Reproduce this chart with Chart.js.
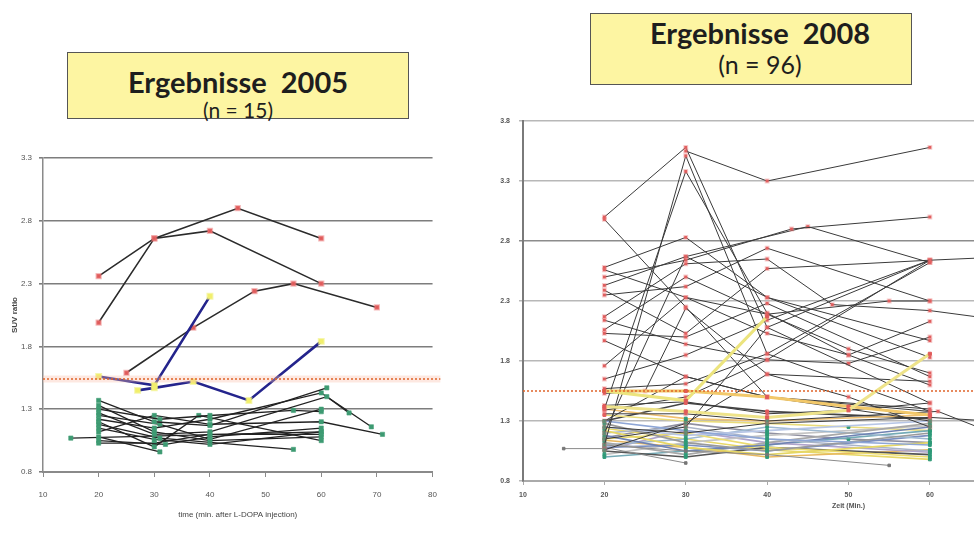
<!DOCTYPE html>
<html>
<head>
<meta charset="utf-8">
<script src="https://cdn.jsdelivr.net/npm/chart.js@4.4.1/dist/chart.umd.min.js"></script>
<style>
    html, body { margin: 0; padding: 0; width: 974px; height: 536px; overflow: hidden; background: #fff; }
    body { position: relative; }
    .box { position: absolute; background: #fdf5a2; border: 1.5px solid #555; box-sizing: border-box; }
    .t { position: absolute; text-align: center; font-family: Lato, sans-serif; line-height: 1; color: #1e1e1e; white-space: pre; }
    #wrapLeft { position: absolute; left: 0; top: 130px; width: 450px; height: 400px; }
    #wrapRight { position: absolute; left: 480px; top: 100px; width: 700px; height: 430px; }
</style>
</head>
<body>
<div class="box" style="left:67px;top:52px;width:342px;height:67px"></div>
<div class="t" style="left:67px;top:67px;width:342px;font-size:29px;font-weight:700">Ergebnisse  2005</div>
<div class="t" style="left:67px;top:99px;width:342px;font-size:21px">(n = 15)</div>

<div class="box" style="left:590px;top:13px;width:322px;height:72px"></div>
<div class="t" style="left:600px;top:17.6px;width:320px;font-size:29px;font-weight:700">Ergebnisse  2008</div>
<div class="t" style="left:600px;top:52px;width:320px;font-size:25px">(n = 96)</div>

<div id="wrapLeft"><canvas id="left"></canvas></div>
<div id="wrapRight"><canvas id="right"></canvas></div>

<script>
// ---- 2005 chart (n = 15) ----
const xTicksLeft = [10, 20, 30, 40, 50, 60, 70, 80];
const yTicksLeft = [0.8, 1.3, 1.8, 2.3, 2.8, 3.3];
const thresholdLeft = 1.54;

// red markers, black lines
const leftRedSeries = [
    [[20, 2.36], [30, 2.66], [45, 2.90], [60, 2.66]],
    [[20, 1.99], [30, 2.66], [40, 2.72], [60, 2.30]],
    [[25, 1.59], [37, 1.95], [48, 2.24], [55, 2.30], [70, 2.11]]
];
// yellow markers, blue lines
const leftBlueSeries = [
    [[20, 1.56], [30, 1.49], [40, 2.20]],
    [[27, 1.45], [30, 1.47], [37, 1.52], [47, 1.37], [60, 1.84]]
];
// green markers, black lines
const leftGreenSeries = [
    [[20, 1.37], [30, 1.20], [40, 1.17], [61, 1.47]],
    [[20, 1.33], [30, 1.12], [40, 1.05], [60, 1.08]],
    [[20, 1.30], [31, 1.22], [40, 1.25], [55, 1.29], [60, 1.28]],
    [[20, 1.27], [30, 1.10], [40, 1.12], [61, 1.40], [65, 1.27]],
    [[20, 1.22], [30, 1.15], [40, 1.22], [60, 1.43], [69, 1.16]],
    [[20, 1.18], [31, 1.07], [55, 0.98]],
    [[20, 1.15], [30, 1.06], [40, 1.02], [60, 1.12]],
    [[20, 1.12], [30, 1.25], [40, 1.18], [60, 1.20], [71, 1.10]],
    [[20, 1.08], [31, 0.96]],
    [[20, 1.05], [32, 1.02], [40, 1.08], [60, 1.15]],
    [[20, 1.03], [30, 1.03], [40, 1.10], [60, 1.10]],
    [[15, 1.07], [60, 1.12]],
    [[20, 1.20], [30, 1.00], [38, 1.25], [60, 1.05]],
    [[20, 1.25], [31, 1.18], [40, 1.06], [60, 1.30]]
];

// ---- 2008 chart (n = 96) ----
const xTicksRight = [10, 20, 30, 40, 50, 60];
const yTicksRight = [0.8, 1.3, 1.8, 2.3, 2.8, 3.3, 3.8];
const thresholdRight = 1.55;

// black lines, marker colour by value
const rightBlackSeries = [
    [[30, 3.55], [40, 3.30], [60, 3.58]],
    [[20, 3.00], [30, 3.58], [40, 2.08], [60, 1.45]],
    [[20, 2.98], [30, 2.25], [40, 1.50], [60, 1.30]],
    [[20, 1.40], [30, 3.38], [40, 2.20], [50, 1.85], [60, 1.60]],
    [[20, 1.10], [30, 3.51], [40, 1.86], [60, 1.38]],
    [[20, 2.58], [30, 2.83], [40, 2.33], [60, 1.97]],
    [[20, 2.50], [30, 2.64], [43, 2.90], [60, 3.00]],
    [[20, 2.43], [30, 2.67], [45, 2.92], [60, 2.62]],
    [[20, 2.39], [30, 2.03], [40, 2.57], [60, 2.64], [70, 2.67]],
    [[20, 2.35], [30, 2.42], [40, 2.74], [60, 2.30]],
    [[20, 2.17], [30, 2.61], [40, 2.65], [48, 2.27], [60, 2.22], [70, 2.13]],
    [[20, 2.14], [30, 1.94], [40, 1.81], [50, 1.78], [60, 2.00]],
    [[20, 2.06], [30, 2.50], [40, 2.19], [55, 2.30], [60, 2.30]],
    [[20, 2.03], [30, 2.00], [40, 2.28], [60, 1.67]],
    [[20, 1.97], [30, 1.67], [40, 1.50], [60, 1.40]],
    [[20, 1.76], [30, 2.33], [40, 2.03], [50, 1.85], [60, 2.13]],
    [[20, 1.65], [30, 1.85], [40, 2.14], [60, 2.64]],
    [[20, 1.57], [30, 1.61], [40, 1.86], [60, 2.62]],
    [[20, 1.53], [25, 1.55], [30, 2.24], [40, 1.69], [60, 1.63]],
    [[20, 1.43], [30, 1.46], [40, 1.36], [50, 1.39], [60, 1.45]],
    [[20, 1.39], [30, 1.50], [40, 1.81], [60, 2.64]],
    [[20, 1.36], [30, 1.36], [40, 1.30], [61, 1.38], [70, 1.14]],
    [[20, 1.20], [30, 2.67], [40, 2.33], [60, 1.83]],
    [[20, 1.15], [30, 1.25], [40, 2.08], [60, 2.64]],
    [[20, 1.06], [30, 1.28], [40, 1.69], [50, 1.50], [60, 1.25]],
    [[20, 1.30], [30, 1.67], [40, 1.50], [60, 1.38]],
    [[20, 1.25], [30, 1.20], [40, 1.28], [60, 1.33], [70, 1.29]],
    [[20, 2.56], [30, 2.33], [40, 2.19], [50, 1.90], [60, 1.70]]
];
// thin grey lines with grey markers
const rightGreySeries = [
    [[15, 1.07], [20, 1.07]],
    [[20, 1.08], [30, 0.95]],
    [[20, 1.10], [30, 1.05], [40, 1.02], [55, 0.93]]
];
// coloured lines in the low band
const rightLowSeries = [
    [[20, 1.30], [30, 1.22], [40, 1.15], [60, 1.10]],
    [[20, 1.28], [30, 1.12], [40, 1.05], [60, 1.20]],
    [[20, 1.25], [30, 1.18], [40, 1.22], [60, 1.30]],
    [[20, 1.22], [30, 1.08], [40, 1.02], [60, 1.12]],
    [[20, 1.20], [30, 1.25], [40, 1.15], [60, 1.05]],
    [[20, 1.18], [30, 1.05], [40, 1.10], [60, 1.25]],
    [[20, 1.15], [30, 1.20], [40, 1.08], [60, 1.00]],
    [[20, 1.12], [30, 1.02], [40, 1.12], [60, 1.28]],
    [[20, 1.10], [30, 1.15], [40, 1.25], [60, 1.15]],
    [[20, 1.08], [30, 1.10], [40, 1.05], [60, 1.18]],
    [[20, 1.05], [30, 1.00], [40, 1.08], [60, 1.02]],
    [[20, 1.02], [30, 1.12], [40, 1.18], [60, 1.26]],
    [[20, 1.06], [30, 1.22], [40, 1.12], [60, 1.04]],
    [[20, 1.14], [30, 1.08], [40, 1.00], [60, 1.06]],
    [[20, 1.24], [30, 1.15], [40, 1.06], [60, 0.98]],
    [[20, 1.00], [30, 1.05], [40, 1.10], [60, 1.22]],
    [[20, 1.16], [30, 1.28], [40, 1.20], [50, 1.15], [60, 1.12]],
    [[20, 1.35], [30, 1.30], [40, 1.28], [50, 1.25], [60, 1.22]],
    [[20, 1.40], [30, 1.32], [40, 1.30], [60, 1.35]],
    [[20, 1.30], [30, 1.45], [40, 1.38], [60, 1.32]]
];
const lowColors = ['#8ea6d6', '#9a9a9a', '#b7c6e6', '#e6d764', '#aab4c8', '#6f82b2', '#ecdc70',
    '#a8a8a8', '#9db8d0', '#7b8fc0', '#555555', '#c4c4c4', '#b0a4cc', '#e8b860', '#e8d868',
    '#74aab6', '#9090a0', '#eadc7a', '#f0c070', '#444444'];
// highlighted yellow lines
const rightYellowSeries = [
    [[20, 1.55], [30, 1.47], [40, 2.17]],
    [[20, 1.42], [30, 1.38], [40, 1.33], [50, 1.39], [60, 1.86]],
    [[20, 1.55], [30, 1.55], [40, 1.50], [50, 1.42], [60, 1.35]]
];
const yellowColors = ['#ece47e', '#eee38a', '#f2c86a'];

const pts = s => s.map(p => ({ x: p[0], y: p[1] }));
const tickFont = { family: 'Arial', size: 8 };

function lineSet(series, opts) {
    return Object.assign({ data: pts(series), showLine: true, fill: false, tension: 0, pointStyle: 'rect' }, opts);
}

// ---------- left chart ----------
const leftSets = [];
leftSets.push(lineSet([[10, thresholdLeft], [81.4, thresholdLeft]], {
    borderColor: '#e0642a', borderWidth: 1.5, borderDash: [2, 2], pointRadius: 0, clip: false
}));
leftSets.push(lineSet([[10, thresholdLeft], [81.4, thresholdLeft]], {
    borderColor: 'rgba(250,190,170,0.35)', borderWidth: 7, pointRadius: 0, clip: false
}));
leftBlueSeries.forEach(s => leftSets.push(lineSet(s, {
    borderColor: '#24248c', borderWidth: 2.6, pointRadius: 3.5,
    pointBackgroundColor: '#f2ef6a', pointBorderColor: 'rgba(240,240,120,0.6)', pointBorderWidth: 2
})));
leftRedSeries.forEach(s => leftSets.push(lineSet(s, {
    borderColor: '#2b2b2b', borderWidth: 1.6, pointRadius: 3,
    pointBackgroundColor: '#de5a5a', pointBorderColor: 'rgba(235,120,120,0.5)', pointBorderWidth: 2
})));
leftGreenSeries.forEach(s => leftSets.push(lineSet(s, {
    borderColor: '#222', borderWidth: 1.3, pointRadius: 3,
    pointBackgroundColor: '#3d9a72', pointBorderColor: 'rgba(70,160,120,0.6)', pointBorderWidth: 1
})));

new Chart(document.getElementById('left'), {
    type: 'scatter',
    data: { datasets: leftSets },
    options: {
        responsive: true,
        maintainAspectRatio: false,
        animation: false,
        layout: { padding: { top: 28, right: 13, left: 0, bottom: 0 } },
        plugins: { legend: { display: false }, tooltip: { enabled: false } },
        scales: {
            x: {
                type: 'linear', min: 10, max: 80,
                afterBuildTicks: s => { s.ticks = xTicksLeft.map(v => ({ value: v })); },
                afterFit: s => { s.height = 58; },
                grid: { drawOnChartArea: false, tickLength: 5, color: '#8a8a8a' },
                border: { color: '#8a8a8a', width: 2 },
                ticks: { font: tickFont, color: '#555', padding: 13 },
                title: { display: true, text: 'time (min. after L-DOPA injection)', font: tickFont, color: '#444', padding: { top: 0, bottom: 10 } }
            },
            y: {
                min: 0.8, max: 3.3,
                afterBuildTicks: s => { s.ticks = yTicksLeft.map(v => ({ value: v })); },
                afterFit: s => { s.width = 43; },
                grid: { color: '#7d7d7d', lineWidth: 1.6, tickLength: 4 },
                border: { color: '#8a8a8a', width: 1.5 },
                ticks: { font: tickFont, color: '#555', padding: 7, callback: v => v.toFixed(1) },
                title: { display: true, text: 'SUV ratio', font: { family: 'Arial', size: 8, weight: 'bold' }, color: '#444', padding: { top: 10, bottom: 0 } }
            }
        }
    }
});

// ---------- right chart ----------
const markerColor = ctx => (ctx.raw && ctx.raw.y >= 1.33) ? '#e05a5a' : '#2f9a78';
const rightSets = [];
rightSets.push(lineSet([[10, thresholdRight], [90, thresholdRight]], {
    borderColor: '#e0642a', borderWidth: 1.5, borderDash: [2, 2], pointRadius: 0
}));
rightYellowSeries.forEach((s, i) => rightSets.push(lineSet(s, {
    borderColor: yellowColors[i], borderWidth: 3, pointRadius: 2.2,
    pointBackgroundColor: markerColor, pointBorderColor: markerColor, pointBorderWidth: 1
})));
rightBlackSeries.forEach(s => rightSets.push(lineSet(s, {
    borderColor: '#3a3a3a', borderWidth: 1, pointRadius: 2,
    pointBackgroundColor: markerColor, pointBorderColor: 'rgba(230,110,110,0.35)', pointBorderWidth: 2
})));
rightGreySeries.forEach(s => rightSets.push(lineSet(s, {
    borderColor: '#8a8a8a', borderWidth: 1, pointRadius: 1.8,
    pointBackgroundColor: '#777', pointBorderColor: '#777', pointBorderWidth: 1
})));
rightLowSeries.forEach((s, i) => rightSets.push(lineSet(s, {
    borderColor: lowColors[i], borderWidth: 1.6, pointRadius: 2,
    pointBackgroundColor: markerColor, pointBorderColor: markerColor, pointBorderWidth: 1
})));

new Chart(document.getElementById('right'), {
    type: 'scatter',
    data: { datasets: rightSets },
    options: {
        responsive: true,
        maintainAspectRatio: false,
        animation: false,
        layout: { padding: { top: 21, right: 0, left: 0, bottom: 0 } },
        plugins: { legend: { display: false }, tooltip: { enabled: false } },
        scales: {
            x: {
                type: 'linear', min: 10, max: 90,
                afterBuildTicks: s => { s.ticks = xTicksRight.map(v => ({ value: v })); },
                afterFit: s => { s.height = 49; },
                grid: { drawOnChartArea: false, tickLength: 4, color: '#aaa' },
                border: { color: '#aaa', width: 2 },
                ticks: { font: { family: 'Arial', size: 7, weight: 'bold' }, color: '#555', padding: 6 },
                title: { display: true, text: 'Zeit (Min.)', font: { family: 'Arial', size: 7, weight: 'bold' }, color: '#555', padding: { top: 0, bottom: 20 } }
            },
            y: {
                min: 0.8, max: 3.8,
                afterBuildTicks: s => { s.ticks = yTicksRight.map(v => ({ value: v })); },
                afterFit: s => { s.width = 43; },
                grid: { color: c => (c.tick && c.tick.value === 2.8) ? '#8c8c8c' : '#b8b8b8', lineWidth: 1.5, tickLength: 4 },
                border: { color: '#7a7a7a', width: 2 },
                ticks: { font: { family: 'Arial', size: 7, weight: 'bold' }, color: '#555', padding: 9, callback: v => v.toFixed(1) }
            }
        }
    }
});
</script>
</body>
</html>
